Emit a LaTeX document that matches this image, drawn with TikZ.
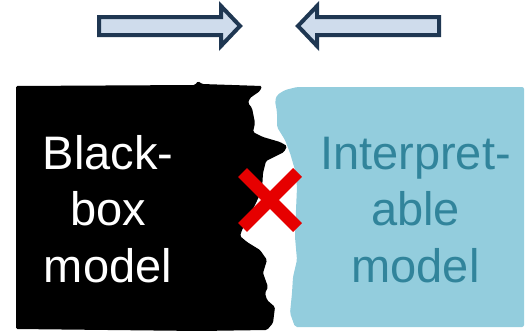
\documentclass[tikz,border=0pt]{standalone}
\usepackage{fontspec}
\setmainfont{Liberation Sans}
\definecolor{arrowfill}{HTML}{CFDCEC}
\definecolor{arrowline}{HTML}{1F3752}
\definecolor{aquafill}{HTML}{93CDDD}
\definecolor{aquatext}{HTML}{31849B}
\definecolor{crossred}{HTML}{E60000}
\tikzset{
  bigarrow/.style={draw=arrowline, fill=arrowfill, line width=4pt, line join=miter},
  modeltext/.style={align=center, inner sep=0pt, anchor=base,
    font=\fontsize{47}{56.5}\selectfont},
  crossbar/.style={draw=crossred, line width=12.7pt, line cap=butt}
}
\begin{document}
\begin{tikzpicture}[x=1pt, y=-1pt]
  \useasboundingbox (0,0) rectangle (525,332);

  % arrows pointing towards each other
  \draw[bigarrow] (99,17) -- (221,17) -- (221,6) -- (240,26) -- (221,46) -- (221,35) -- (99,35) -- cycle;
  \draw[bigarrow] (439,17) -- (317,17) -- (317,6) -- (298,26) -- (317,46) -- (317,35) -- (439,35) -- cycle;

  % black-box model, torn on its right side
  \fill[black, rounded corners=1.5pt]
    (16,86) -- (195,85) -- (198,81) -- (202,84) -- (262,86) -- (260,91)
    -- (250,98) -- (248,103) -- (252,108) -- (255,123) -- (253,132)
    -- (263,137) -- (280,142) -- (287,146) -- (284,152) -- (266,161)
    -- (263,173) -- (262,190) -- (255,205) -- (248,218) -- (242,230)
    -- (240,236) -- (247,242) -- (260,250) -- (267,260) -- (263,273)
    -- (268,287) -- (265,293) -- (267,300) -- (275,307) -- (273,323)
    -- (267,330) -- (200,331) -- (16,329) -- cycle;

  % interpretable model, torn on its left side
  \fill[aquafill, rounded corners=2pt]
    (524,87) -- (297,87) -- (285,90) -- (277,95) -- (275,101) -- (277,112)
    -- (277,127) -- (285,140) -- (290,153) -- (295,170) -- (297,187)
    -- (296,210) -- (295,237) -- (297,260) -- (293,277) -- (292,293)
    -- (290,313) -- (295,327) -- (524,327) -- cycle;

  % the base anchor of these nodes sits on the baseline of their last line
  \node[modeltext, text=white] (bb) at (108,282) {Black-\\box\\model};
  \node[modeltext, text=aquatext] (im) at (415.5,282) {Interpret-\\able\\model};

  % red cross between the two models
  \coordinate (x) at (270,200);
  \draw[crossbar] ([shift={(-27.5,-27.5)}]x) -- ([shift={(27.5,27.5)}]x);
  \draw[crossbar] ([shift={(27.5,-27.5)}]x) -- ([shift={(-27.5,27.5)}]x);
\end{tikzpicture}
\end{document}
